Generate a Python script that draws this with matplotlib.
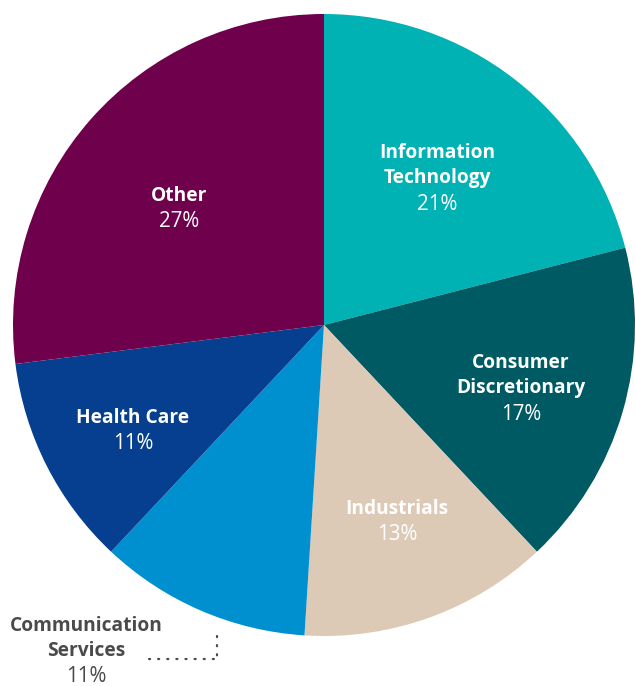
import matplotlib
matplotlib.use("Agg")
import matplotlib.pyplot as plt

# Data
sectors = ["Information\nTechnology", "Consumer\nDiscretionary", "Industrials",
           "Communication\nServices", "Health Care", "Other"]
shares = [21, 17, 13, 11, 11, 27]
colors = ["#00b2b4", "#005a64", "#dccab6", "#0090d0", "#063f8f", "#6e004c"]

W, H = 635, 686
fig = plt.figure(figsize=(W / 100, H / 100), dpi=100)
ax = fig.add_axes([0, 0, 1, 1])

cx, cy, r = 324, H - 325, 311
ax.pie(shares, colors=colors, startangle=90, counterclock=False,
       center=(cx, cy), radius=r, wedgeprops=dict(linewidth=0))
ax.set_xlim(0, W)
ax.set_ylim(0, H)
ax.set_aspect("equal")
ax.axis("off")

FONT = "Open Sans"
# label layout: (x, y of first line) in pixel coords, text colour
layout = [
    (437, 153, "white"),
    (521, 363, "white"),
    (397, 509, "white"),
    (86, 626, "#4a4a4a"),
    (133, 418, "white"),
    (179, 196, "white"),
]
LINE = 25.5
for name, val, (x, y, col) in zip(sectors, shares, layout):
    lines = name.split("\n")
    for i, ln in enumerate(lines):
        ax.text(x, H - (y + i * LINE), ln, ha="center", va="center",
                fontsize=13.8, fontweight="bold", color=col, family=FONT)
    ax.text(x, H - (y + len(lines) * LINE), f"{val}%", ha="center", va="center",
            fontsize=14.8, color=col, family=FONT)

# dotted leader for the outside label
dots = (0, (0.5, 3.6))
ax.plot([149, 217], [H - 659, H - 659], color="#4a4a4a", lw=1.6,
        linestyle=dots, dash_capstyle="round")
ax.plot([217, 217], [H - 636, H - 659], color="#4a4a4a", lw=1.6,
        linestyle=dots, dash_capstyle="round")

fig.savefig("out.png", dpi=100)
